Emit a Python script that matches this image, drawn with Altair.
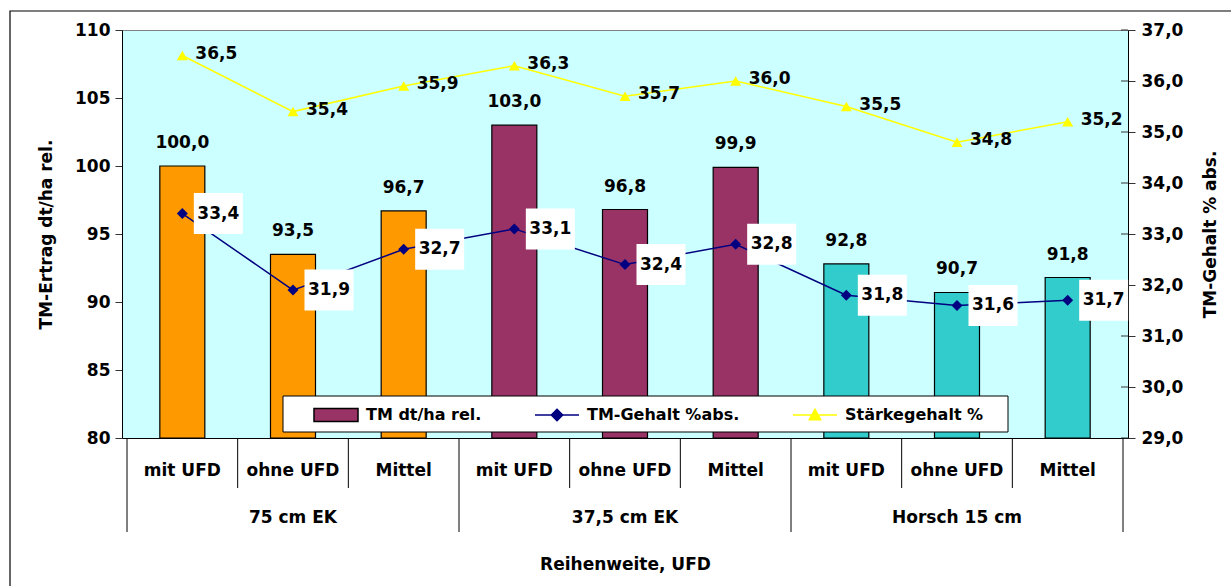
import altair as alt
import pandas as pd

# ---------------- data ----------------
categories = ["mit UFD", "ohne UFD", "Mittel",
              "mit UFD", "ohne UFD", "Mittel",
              "mit UFD", "ohne UFD", "Mittel"]
groups = ["75 cm EK", "37,5 cm EK", "Horsch 15 cm"]
tm_ertrag = [100.0, 93.5, 96.7, 103.0, 96.8, 99.9, 92.8, 90.7, 91.8]
tm_gehalt = [33.4, 31.9, 32.7, 33.1, 32.4, 32.8, 31.8, 31.6, 31.7]
staerke = [36.5, 35.4, 35.9, 36.3, 35.7, 36.0, 35.5, 34.8, 35.2]
legend_names = ["TM dt/ha rel.", "TM-Gehalt %abs.", "Stärkegehalt %"]
left_ticks = [80, 85, 90, 95, 100, 105, 110]
right_ticks = [29, 30, 31, 32, 33, 34, 35, 36, 37]

group_colors = ["#FF9900", "#993366", "#33CCCC"]
NAVY = "#000080"
YELLOW = "#FFFF00"
FONT = "DejaVu Sans"
FS = 17

W, H = 1006, 408


def de(v):
    return f"{v:.1f}".replace(".", ",")


n = len(categories)
df = pd.DataFrame({
    "pos": [i + 0.5 for i in range(n)],
    "cat": categories,
    "group": [g for g in groups for _ in range(3)],
    "ertrag": tm_ertrag,
    "lbl": [de(v) for v in tm_ertrag],
})
gdf = pd.DataFrame({"pos": df["pos"], "v": tm_gehalt, "lbl": [de(v) for v in tm_gehalt]})
sdf = pd.DataFrame({"pos": df["pos"], "v": staerke, "lbl": [de(v) for v in staerke]})
grp_df = pd.DataFrame({"pos": [i * 3 + 1.5 for i in range(len(groups))], "group": groups})
sep_df = pd.DataFrame({"pos": list(range(n + 1))})
sep_df["major"] = sep_df["pos"] % 3 == 0
rtick_df = pd.DataFrame({"v": right_ticks})
leg_df = pd.DataFrame({"serie": legend_names, "pos": [0.5] * 3, "v": [0.0] * 3})
one = pd.DataFrame({"a": [0]})


def X():
    return alt.X("pos:Q", scale=alt.Scale(domain=[0, n], nice=False, zero=False),
                 axis=alt.Axis(labels=False, ticks=False, grid=False, domainColor="black",
                               title="Reihenweite, UFD", titlePadding=118))


yL = alt.Y("ertrag:Q", scale=alt.Scale(domain=[80, 110], nice=False, zero=False),
           axis=alt.Axis(values=left_ticks, orient="left", grid=False, tickSize=7,
                         tickColor="#333333", domainColor="black", labelPadding=5,
                         title="TM-Ertrag dt/ha rel.", titlePadding=19))

yR = alt.Y("v:Q", scale=alt.Scale(domain=[29, 37], nice=False, zero=False),
           axis=alt.Axis(values=right_ticks, orient="right", grid=False, tickSize=7,
                         tickColor="#333333", domainColor="black", labelPadding=6,
                         labelExpr="replace(format(datum.value, '.1f'), '.', ',')",
                         title="TM-Gehalt % abs.", titleAngle=270, titlePadding=37))

# ---------------- left (bars) ----------------
bars = alt.Chart(df).mark_bar(size=45, stroke="black", strokeWidth=1.2).encode(
    x=X(), y=yL, y2=alt.datum(80),
    color=alt.Color("group:N", scale=alt.Scale(domain=groups, range=group_colors), legend=None),
)
bar_labels = alt.Chart(df).mark_text(baseline="middle", dy=-23, fontSize=FS, fontWeight="bold",
                                     font=FONT, color="black").encode(x=X(), y=yL, text="lbl:N")
left = alt.layer(bars, bar_labels)

# ---------------- right (lines) ----------------
inner_ticks = alt.Chart(rtick_df).mark_rule(color="#333333").encode(
    x=alt.value(W - 7), x2=alt.value(W), y=yR)

gehalt_line = alt.Chart(gdf).mark_line(
    color=NAVY, strokeWidth=1.5,
    point=alt.OverlayMarkDef(shape="diamond", filled=True, size=120, color=NAVY, opacity=1),
).encode(x=X(), y=yR)
staerke_line = alt.Chart(sdf).mark_line(
    color=YELLOW, strokeWidth=1.5,
    point=alt.OverlayMarkDef(shape="triangle-up", filled=True, size=120, color=YELLOW, opacity=1),
).encode(x=X(), y=yR)

BOX = "M-1,-0.837H1V0.837H-1Z"
gehalt_boxes = alt.Chart(gdf).mark_point(shape=BOX, filled=True, fill="white", size=2401,
                                         xOffset=36, opacity=1, strokeWidth=0).encode(x=X(), y=yR)
gehalt_labels = alt.Chart(gdf).mark_text(dx=36, baseline="middle", fontSize=FS, fontWeight="bold",
                                         font=FONT, color="black").encode(x=X(), y=yR, text="lbl:N")
staerke_labels = alt.Chart(sdf).mark_text(dx=34, dy=-2, baseline="middle", fontSize=FS,
                                          fontWeight="bold", font=FONT, color="black").encode(
    x=X(), y=yR, text="lbl:N")

# category axis
seps_minor = alt.Chart(sep_df).transform_filter("!datum.major").mark_rule(color="black").encode(
    x=X(), y=alt.value(H), y2=alt.value(H + 50))
seps_major = alt.Chart(sep_df).transform_filter("datum.major").mark_rule(color="black").encode(
    x=X(), y=alt.value(H), y2=alt.value(H + 94))
cat_labels = alt.Chart(df).mark_text(baseline="middle", fontSize=FS, fontWeight="bold",
                                     font=FONT, color="black").encode(
    x=X(), y=alt.value(H + 33), text="cat:N")
grp_labels = alt.Chart(grp_df).mark_text(baseline="middle", fontSize=FS, fontWeight="bold",
                                         font=FONT, color="black").encode(
    x=X(), y=alt.value(H + 80), text="group:N")

# legend frame and outer frame
legend_frame = alt.Chart(one).mark_rect(fill="white", stroke="black", strokeWidth=1).encode(
    x=alt.value(283 - 122), x2=alt.value(1008 - 122), y=alt.value(396 - 30), y2=alt.value(432 - 30))
outer_frame = alt.Chart(one).mark_rect(fill=None, stroke="black", strokeWidth=1.2).encode(
    x=alt.value(10 - 122), x2=alt.value(1260 - 122), y=alt.value(11 - 30), y2=alt.value(620 - 30))

leg_paths = ["M-1,-0.3H1V0.3H-1Z",
             "M-1,0H1M0,-0.26L0.26,0L0,0.26L-0.26,0Z",
             "M-1,0H1M0,-0.26L0.26,0.22L-0.26,0.22Z"]
leg = alt.Legend(title=None, orient="none", direction="horizontal", legendX=313 - 122,
                 legendY=414 - 30 - 22, columnPadding=50, symbolSize=1936, symbolStrokeWidth=1.5,
                 labelFont=FONT, labelFontSize=16, labelFontWeight="bold", labelColor="black",
                 labelOffset=7, padding=0, gridAlign="none")
legend_dummy = alt.Chart(leg_df).mark_point(filled=True, clip=True, opacity=1).encode(
    x=X(), y=yR,
    fill=alt.Fill("serie:N", scale=alt.Scale(domain=legend_names, range=["#993366", NAVY, YELLOW]), legend=leg),
    stroke=alt.Stroke("serie:N", scale=alt.Scale(domain=legend_names, range=["black", NAVY, YELLOW]), legend=leg),
    shape=alt.Shape("serie:N", scale=alt.Scale(domain=legend_names, range=leg_paths), legend=leg),
)

right = alt.layer(inner_ticks, seps_minor, seps_major, cat_labels, grp_labels,
                  gehalt_line, staerke_line, gehalt_boxes, gehalt_labels, staerke_labels,
                  legend_frame, legend_dummy, outer_frame)

chart = alt.layer(left, right).resolve_scale(y="independent").properties(
    width=W, height=H,
    autosize=alt.AutoSizeParams(type="none"),
    padding={"left": 122, "top": 30, "right": 1231 - 122 - W, "bottom": 586 - 30 - H},
    background="white",
).configure_view(fill="#CCFFFF", stroke="#808080").configure_axis(
    labelFont=FONT, labelFontSize=FS, labelFontWeight="bold", labelColor="black",
    titleFont=FONT, titleFontSize=FS, titleFontWeight="bold", titleColor="black",
)

chart.save("out.html", embed_options={"renderer": "svg", "actions": False})
